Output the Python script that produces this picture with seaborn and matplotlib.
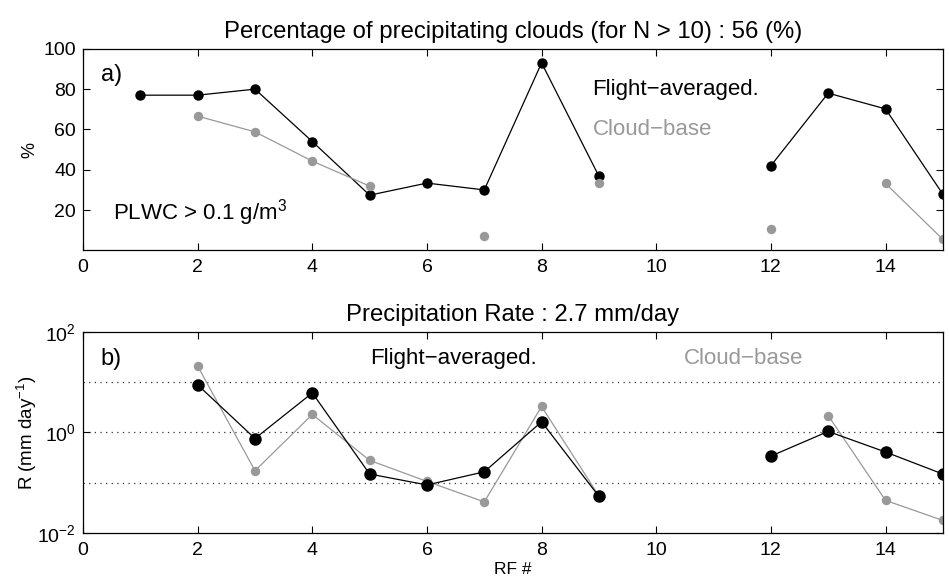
import numpy as np
import pandas as pd
import seaborn as sns
import matplotlib.pyplot as plt

# research flight number and values
rf = np.arange(1, 16)
nan = np.nan
pct_flight = [77, 77, 80, 54, 27.4, 33.4, 30, 93, 36.8, nan, nan, 42, 78, 70.2, 27.9]
pct_base = [nan, 66.6, 58.8, 44.3, 31.9, nan, 7.1, nan, 33.2, nan, nan, 10.4, nan, 33.2, 5.5]
rate_flight = [nan, 8.8, 0.76, 6.1, 0.15, 0.091, 0.166, 1.63, 0.054, nan, nan, 0.34, 1.05, 0.41, 0.15]
rate_base = [nan, 20.8, 0.174, 2.28, 0.28, 0.107, 0.042, 3.28, 0.055, nan, nan, nan, 2.17, 0.045, 0.018]

GRAY = '#999999'

sns.set_style('ticks')
plt.rcParams['font.family'] = ['Liberation Sans', 'DejaVu Sans']
plt.rcParams['mathtext.fontset'] = 'custom'
plt.rcParams['mathtext.rm'] = 'Liberation Sans'
plt.rcParams['mathtext.it'] = 'Liberation Sans:italic'
for k in ['text.color', 'axes.labelcolor', 'xtick.color', 'ytick.color', 'axes.edgecolor']:
    plt.rcParams[k] = 'black'


def to_frame(vals):
    # break the line wherever a value is missing
    s = pd.Series(vals, dtype=float)
    df = pd.DataFrame({'rf': rf, 'val': s, 'seg': s.isna().cumsum()})
    return df.dropna()


def draw(ax, vals, color, ms):
    sns.lineplot(data=to_frame(vals), x='rf', y='val', units='seg', estimator=None,
                 color=color, lw=0.9, marker='o', markersize=ms,
                 markeredgewidth=0, markerfacecolor=color, ax=ax)


def style(ax):
    ax.tick_params(direction='in', top=True, right=True, length=5, width=0.8,
                   labelsize=14, pad=5)
    ax.tick_params(axis='x', pad=6.5)
    for sp in ax.spines.values():
        sp.set_linewidth(0.9)
        sp.set_visible(True)
    ax.set_xlim(0, 15)
    ax.set_xticks(range(0, 16, 2))


fig = plt.figure(figsize=(9.49, 5.81), dpi=100)

# a) percentage of precipitating clouds
ax1 = fig.add_axes([0.0875, 0.569, 0.906, 0.347])
draw(ax1, pct_flight, 'black', 7.5)
draw(ax1, pct_base, GRAY, 6.8)
style(ax1)
ax1.set_ylim(0, 100)
ax1.set_yticks([20, 40, 60, 80, 100])
ax1.set_xlabel('')
ax1.set_ylabel('%', fontsize=13, labelpad=4)
ax1.set_title('Percentage of precipitating clouds (for N > 10) : 56 (%)', fontsize=17.2, pad=8)
ax1.text(0.31, 87, 'a)', fontsize=17, va='center')
ax1.text(8.89, 80, 'Flight\u2212averaged.', fontsize=16, va='center')
ax1.text(8.89, 60, 'Cloud\u2212base', fontsize=16, va='center', color=GRAY)
ax1.text(0.52, 19, 'PLWC > 0.1 g/m$^3$', fontsize=16, va='center')

# b) precipitation rate
ax2 = fig.add_axes([0.0875, 0.0821, 0.906, 0.347])
ax2.set_yscale('log')
for lvl in [10, 1, 0.1]:
    ax2.axhline(lvl, color='#333333', lw=0.9, ls=(0, (1, 3.5)), zorder=0)
draw(ax2, rate_base, GRAY, 6.8)
draw(ax2, rate_flight, 'black', 9)
style(ax2)
ax2.set_ylim(1e-2, 1e2)
ax2.set_yticks([1e-2, 1, 1e2])
ax2.minorticks_off()
ax2.set_xlabel('RF #', fontsize=12.5, labelpad=2)
ax2.set_ylabel('R (mm day$^{-1}$)', fontsize=13.5, labelpad=-1)
ax2.set_title('Precipitation Rate : 2.7 mm/day', fontsize=17.2, pad=8)
ax2.text(0.31, 29, 'b)', fontsize=17, va='center')
ax2.text(5.0, 29, 'Flight\u2212averaged.', fontsize=16, va='center')
ax2.text(10.49, 29, 'Cloud\u2212base', fontsize=16, va='center', color=GRAY)

fig.savefig('out.png', dpi=100)
